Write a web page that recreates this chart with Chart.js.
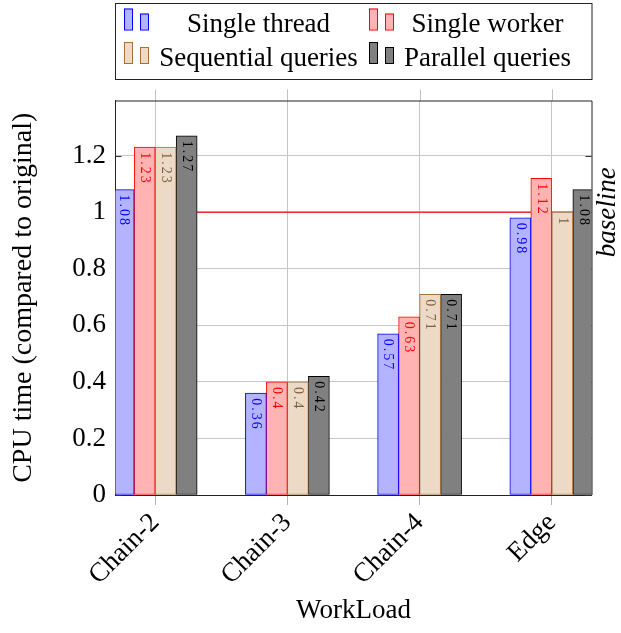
<!DOCTYPE html>
<html>
<head>
<meta charset="utf-8">
<script src="https://cdn.jsdelivr.net/npm/chart.js@4"></script>
<style>
  html, body { margin: 0; padding: 0; background: #fff; }
  #wrap { width: 621px; height: 633px; }
</style>
</head>
<body>
<div id="wrap"><canvas id="c" width="621" height="633"></canvas></div>
<script>
// Workloads on the x axis
const categories = ['Chain-2', 'Chain-3', 'Chain-4', 'Edge'];

// CPU time of each configuration, relative to the original (= 1)
const singleThread      = [1.08, 0.36, 0.57, 0.98];
const singleWorker      = [1.23, 0.40, 0.63, 1.12];
const sequentialQueries = [1.23, 0.40, 0.71, 1.00];
const parallelQueries   = [1.27, 0.42, 0.71, 1.08];

const seriesNames = ['Single thread', 'Single worker', 'Sequential queries', 'Parallel queries'];
const baselineValue = 1;
const baselineLabel = 'baseline';
const yTickValues = [0, 0.2, 0.4, 0.6, 0.8, 1, 1.2];

const FONT = 'Liberation Serif';
const TEXT_SIZE = 27;

Chart.defaults.font.family = FONT;
Chart.defaults.color = '#000';

const styles = [
  { fill: 'rgb(179,179,255)', stroke: '#0000ff', text: '#0000ff' },
  { fill: 'rgb(255,179,179)', stroke: '#ff0000', text: '#ff0000' },
  { fill: 'rgb(236,217,198)', stroke: 'rgb(166,112,60)', text: 'rgb(128,96,64)' },
  { fill: '#808080',          stroke: '#000000', text: '#000000' }
];

const seriesValues = [singleThread, singleWorker, sequentialQueries, parallelQueries];

const barDatasets = seriesValues.map((vals, s) => ({
  type: 'bar',
  label: seriesNames[s],
  data: vals.map((v, i) => ({ x: i, y: v })),
  backgroundColor: styles[s].fill,
  borderColor: styles[s].stroke,
  borderWidth: 1,
  borderSkipped: false,
  barThickness: 21,
  order: 0
}));

const baselineDataset = {
  type: 'line',
  label: baselineLabel,
  data: [{ x: -0.3, y: baselineValue }, { x: 3.3, y: baselineValue }],
  borderColor: '#ff0000',
  borderWidth: 1.2,
  pointRadius: 0,
  order: 5
};

// Frame, inner ticks, value labels, baseline caption and the legend box
const decorations = {
  id: 'decorations',
  beforeDatasetsDraw(chart) {
    const { ctx, chartArea: a, scales: { x, y } } = chart;
    ctx.save();
    // x grid lines poke out above the frame
    ctx.strokeStyle = '#c0c0c0';
    ctx.lineWidth = 1;
    categories.forEach((_, i) => {
      const px = Math.round(x.getPixelForValue(i)) + 0.5;
      ctx.beginPath();
      ctx.moveTo(px, a.top - 11);
      ctx.lineTo(px, a.top);
      ctx.stroke();
    });
    // inward y ticks on both sides
    ctx.strokeStyle = '#333';
    yTickValues.forEach(v => {
      const py = Math.round(y.getPixelForValue(v)) + 0.5;
      ctx.beginPath();
      ctx.moveTo(a.left, py); ctx.lineTo(a.left + 6, py);
      ctx.moveTo(a.right, py); ctx.lineTo(a.right - 6, py);
      ctx.stroke();
    });
    ctx.restore();
  },
  afterDatasetsDraw(chart) {
    const { ctx, chartArea: a, scales: { y } } = chart;
    ctx.save();

    // value labels, rotated, just inside the top of each bar
    ctx.font = `14px '${FONT}'`;
    ctx.letterSpacing = '2px';
    ctx.textAlign = 'left';
    ctx.textBaseline = 'middle';
    seriesValues.forEach((vals, s) => {
      const meta = chart.getDatasetMeta(s);
      meta.data.forEach((el, i) => {
        ctx.save();
        ctx.fillStyle = styles[s].text;
        ctx.translate(el.x, el.y + 5);
        ctx.rotate(Math.PI / 2);
        ctx.fillText(String(vals[i]), 0, 0);
        ctx.restore();
      });
    });
    ctx.letterSpacing = '0px';

    // top and right edges of the frame
    ctx.strokeStyle = '#222';
    ctx.lineWidth = 1;
    ctx.beginPath();
    ctx.moveTo(a.left, a.top + 0.5);
    ctx.lineTo(a.right + 0.5, a.top + 0.5);
    ctx.lineTo(a.right + 0.5, a.bottom);
    ctx.stroke();

    // baseline caption
    ctx.save();
    ctx.fillStyle = '#000';
    ctx.font = `italic ${TEXT_SIZE}px '${FONT}'`;
    ctx.textAlign = 'center';
    ctx.textBaseline = 'middle';
    ctx.translate(608, y.getPixelForValue(baselineValue));
    ctx.rotate(-Math.PI / 2);
    ctx.fillText(baselineLabel, 0, 0);
    ctx.restore();

    // legend
    const box = { left: a.left, right: a.right + 0.5, top: 3.5, bottom: 79.5 };
    ctx.fillStyle = '#fff';
    ctx.fillRect(box.left, box.top, box.right - box.left, box.bottom - box.top);
    ctx.strokeStyle = '#222';
    ctx.strokeRect(box.left, box.top, box.right - box.left, box.bottom - box.top);

    const cols = [
      { icon1: 8.5, icon2: 24.5, textCenter: 143 },
      { icon1: 253.5, icon2: 269.5, textCenter: 372 }
    ];
    const rows = [
      { iconBottom: 29.5, baseline: 32 },
      { iconBottom: 63, baseline: 65.5 }
    ];
    ctx.font = `${TEXT_SIZE}px '${FONT}'`;
    ctx.textAlign = 'center';
    ctx.textBaseline = 'alphabetic';
    seriesNames.forEach((name, s) => {
      const c = cols[s % 2], r = rows[Math.floor(s / 2)];
      const st = styles[s];
      const rects = [
        { x: box.left + c.icon1, h: 21 },
        { x: box.left + c.icon2, h: 16 }
      ];
      rects.forEach(rc => {
        ctx.fillStyle = st.fill;
        ctx.fillRect(rc.x, r.iconBottom - rc.h, 8, rc.h);
        ctx.strokeStyle = st.stroke;
        ctx.lineWidth = 1;
        ctx.strokeRect(rc.x + 0.5, r.iconBottom - rc.h + 0.5, 8, rc.h);
      });
      ctx.fillStyle = '#000';
      ctx.fillText(name, box.left + c.textCenter, r.baseline);
    });
    ctx.restore();
  }
};

new Chart(document.getElementById('c'), {
  type: 'bar',
  data: { datasets: [...barDatasets, baselineDataset] },
  options: {
    responsive: false,
    devicePixelRatio: 1,
    animation: false,
    layout: { padding: { top: 100.5, right: 29.5, left: 0, bottom: 0 } },
    plugins: {
      legend: { display: false },
      tooltip: { enabled: false }
    },
    scales: {
      x: {
        type: 'linear',
        offset: false,
        min: -0.3,
        max: 3.3,
        afterBuildTicks: s => { s.ticks = categories.map((_, i) => ({ value: i })); },
        afterFit: s => { s.height = 138; },
        ticks: {
          autoSkip: false,
          minRotation: 45,
          maxRotation: 45,
          padding: 2,
          color: '#000',
          font: { family: FONT, size: TEXT_SIZE },
          callback: v => categories[v]
        },
        grid: { offset: false, color: '#c6c6c6', tickColor: '#b4b4b4', tickLength: 10, lineWidth: 1 },
        border: { color: '#222', width: 1 },
        title: {
          display: true,
          text: 'WorkLoad',
          color: '#000',
          font: { family: FONT, size: TEXT_SIZE },
          padding: { top: 0, bottom: 6 }
        }
      },
      y: {
        min: 0,
        max: 1.395,
        afterBuildTicks: s => { s.ticks = yTickValues.map(v => ({ value: v })); },
        afterFit: s => { s.width = 115.5; },
        ticks: {
          padding: 9.5,
          color: '#000',
          font: { family: FONT, size: TEXT_SIZE },
          callback: v => String(v)
        },
        grid: { color: '#c6c6c6', drawTicks: false, lineWidth: 1 },
        border: { color: '#222', width: 1 },
        title: {
          display: true,
          text: 'CPU time (compared to original)',
          color: '#000',
          font: { family: FONT, size: 28 },
          padding: { top: 7, bottom: 0 }
        }
      }
    }
  },
  plugins: [decorations]
});
</script>
</body>
</html>
